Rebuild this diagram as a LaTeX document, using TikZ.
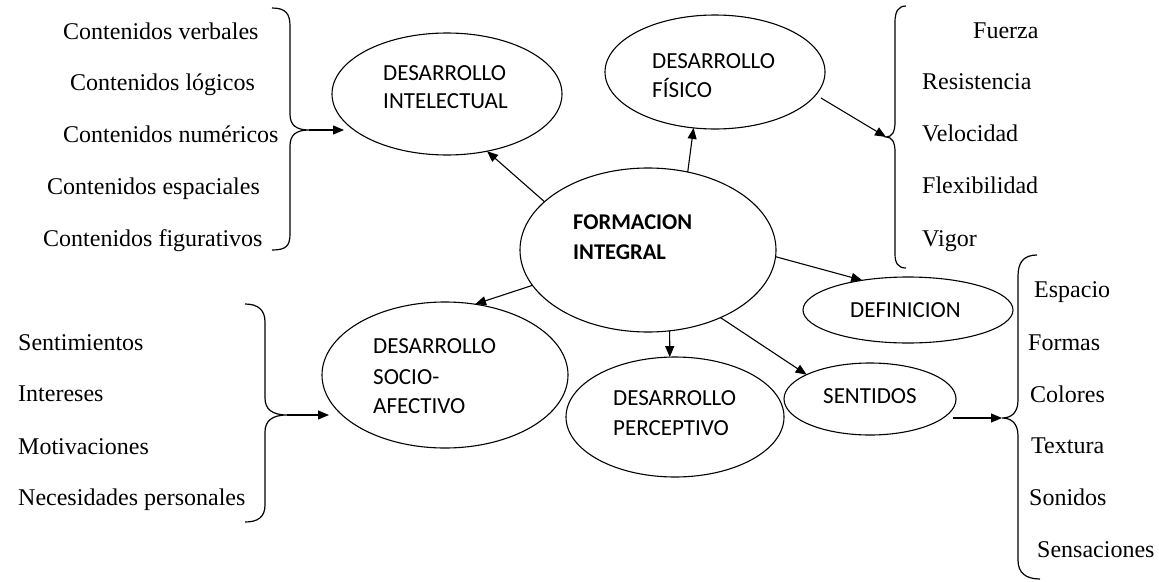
\documentclass[tikz,border=0pt]{standalone}
\usepackage{fontspec}
\setmainfont{Liberation Serif}
\newfontfamily\lsans{Carlito}
\usetikzlibrary{shapes.geometric,arrows.meta}
\begin{document}
\begin{tikzpicture}[x=1pt,y=-1pt,
  ell/.style={draw, ellipse, line width=1.1pt, inner sep=0pt, outer sep=0pt},
  lst/.style={anchor=base west, inner sep=0pt, font=\fontsize{24}{28}\selectfont},
  lab/.style={anchor=base west, inner sep=0pt, font=\lsans\fontsize{23}{27}\selectfont},
  labb/.style={lab, font=\lsans\bfseries\fontsize{22.5}{27}\selectfont},
  arr/.style={line width=1.1pt, -{Triangle[length=11pt,width=9pt]}},
  brace/.style={line width=1.2pt}]
\useasboundingbox (0,0) rectangle (1159,581);

% ellipses
\node[ell, minimum width=230pt, minimum height=122pt] (di) at (447,94) {};
\node[ell, minimum width=220pt, minimum height=114pt] (df) at (715,72) {};
\node[ell, minimum width=256pt, minimum height=164pt] (fi) at (648,250) {};
\node[ell, minimum width=210pt, minimum height=66pt] (def) at (908,310) {};
\node[ell, minimum width=172pt, minimum height=72pt] (sen) at (870,399) {};
\node[ell, minimum width=218pt, minimum height=120pt] (per) at (675,417) {};
\node[ell, minimum width=246pt, minimum height=146pt] (soc) at (445,375) {};

% ellipse texts
\node[lab] (di-t1) at (383,80) {DESARROLLO};
\node[lab] (di-t2) at (383,108) {INTELECTUAL};
\node[lab] (df-t1) at (652,68) {DESARROLLO};
\node[lab] (df-t2) at (652,97) {FÍSICO};
\node[labb] (fi-t1) at (573,229) {FORMACION};
\node[labb] (fi-t2) at (573,259) {INTEGRAL};
\node[lab] (soc-t1) at (373,353) {DESARROLLO};
\node[lab] (soc-t2) at (373,384) {SOCIO-};
\node[lab] (soc-t3) at (373,413) {AFECTIVO};
\node[lab] (per-t1) at (613,405) {DESARROLLO};
\node[lab] (per-t2) at (613,435) {PERCEPTIVO};
\node[lab] (def-t) at (850,317) {DEFINICION};
\node[lab] (sen-t) at (823,403) {SENTIDOS};

% lists
\node[lst] (l1) at (63,39) {Contenidos verbales};
\node[lst] (l2) at (70,90) {Contenidos lógicos};
\node[lst] (l3) at (63,142) {Contenidos numéricos};
\node[lst] (l4) at (47,194) {Contenidos espaciales};
\node[lst] (l5) at (43,246) {Contenidos figurativos};

\node[lst] (r1) at (973,38) {Fuerza};
\node[lst] (r2) at (922,89) {Resistencia};
\node[lst] (r3) at (922,141) {Velocidad};
\node[lst] (r4) at (922,193) {Flexibilidad};
\node[lst] (r5) at (922,246) {Vigor};

\node[lst] (s1) at (1034,297) {Espacio};
\node[lst] (s2) at (1028,350) {Formas};
\node[lst] (s3) at (1030,402) {Colores};
\node[lst] (s4) at (1031,453) {Textura};
\node[lst] (s5) at (1029,505) {Sonidos};
\node[lst] (s6) at (1037,557) {Sensaciones};

\node[lst] (m1) at (18,350) {Sentimientos};
\node[lst] (m2) at (18,401) {Intereses};
\node[lst] (m3) at (18,454) {Motivaciones};
\node[lst] (m4) at (18,505) {Necesidades personales};

% braces
\draw[brace] (272,8) .. controls (286,8) and (290,14) .. (290,26) -- (290,114)
  .. controls (290,125) and (296,130) .. (309,130)
  .. controls (296,130) and (290,135) .. (290,146) -- (290,234)
  .. controls (290,246) and (286,250) .. (272,250);
\coordinate (b1) at (309,130);
\draw[brace] (906,6) .. controls (898,6) and (895,12) .. (895,22) -- (895,122)
  .. controls (895,132) and (892,137) .. (886,137)
  .. controls (892,137) and (895,142) .. (895,152) -- (895,254)
  .. controls (895,263) and (898,268) .. (906,268);
\coordinate (b2) at (886,137);
\draw[brace] (245,304) .. controls (258,304) and (265,310) .. (265,322) -- (265,398)
  .. controls (265,409) and (272,415) .. (287,415)
  .. controls (272,415) and (265,421) .. (265,432) -- (265,505)
  .. controls (265,517) and (258,522) .. (245,522);
\coordinate (b3) at (287,415);
\draw[brace] (1037,255) .. controls (1024,255) and (1018,262) .. (1018,276) -- (1018,400)
  .. controls (1018,412) and (1012,418) .. (1002,418)
  .. controls (1012,418) and (1018,424) .. (1018,436) -- (1018,560)
  .. controls (1018,573) and (1026,579) .. (1040,579);
\coordinate (b4) at (1002,418);

\coordinate (di-in) at (344,130);
\coordinate (df-out) at (821,98);
\coordinate (soc-in) at (329,415);
\coordinate (sen-out) at (953,418);

% connectors
\draw[arr] (fi.155) -- (di.-55);
\draw[arr] (fi.63) -- (df.-111);
\draw[arr] (fi.-3) -- (def.147);
\draw[arr] (fi.-43) -- (sen.159);
\draw[arr] (fi.-75) -- (per.95);
\draw[arr] (fi.197) -- (soc.67);
\draw[arr] (b1) -- (di-in);
\draw[arr] (df-out) -- (b2);
\draw[arr] (b3) -- (soc-in);
\draw[arr] (sen-out) -- (b4);
\end{tikzpicture}
\end{document}
